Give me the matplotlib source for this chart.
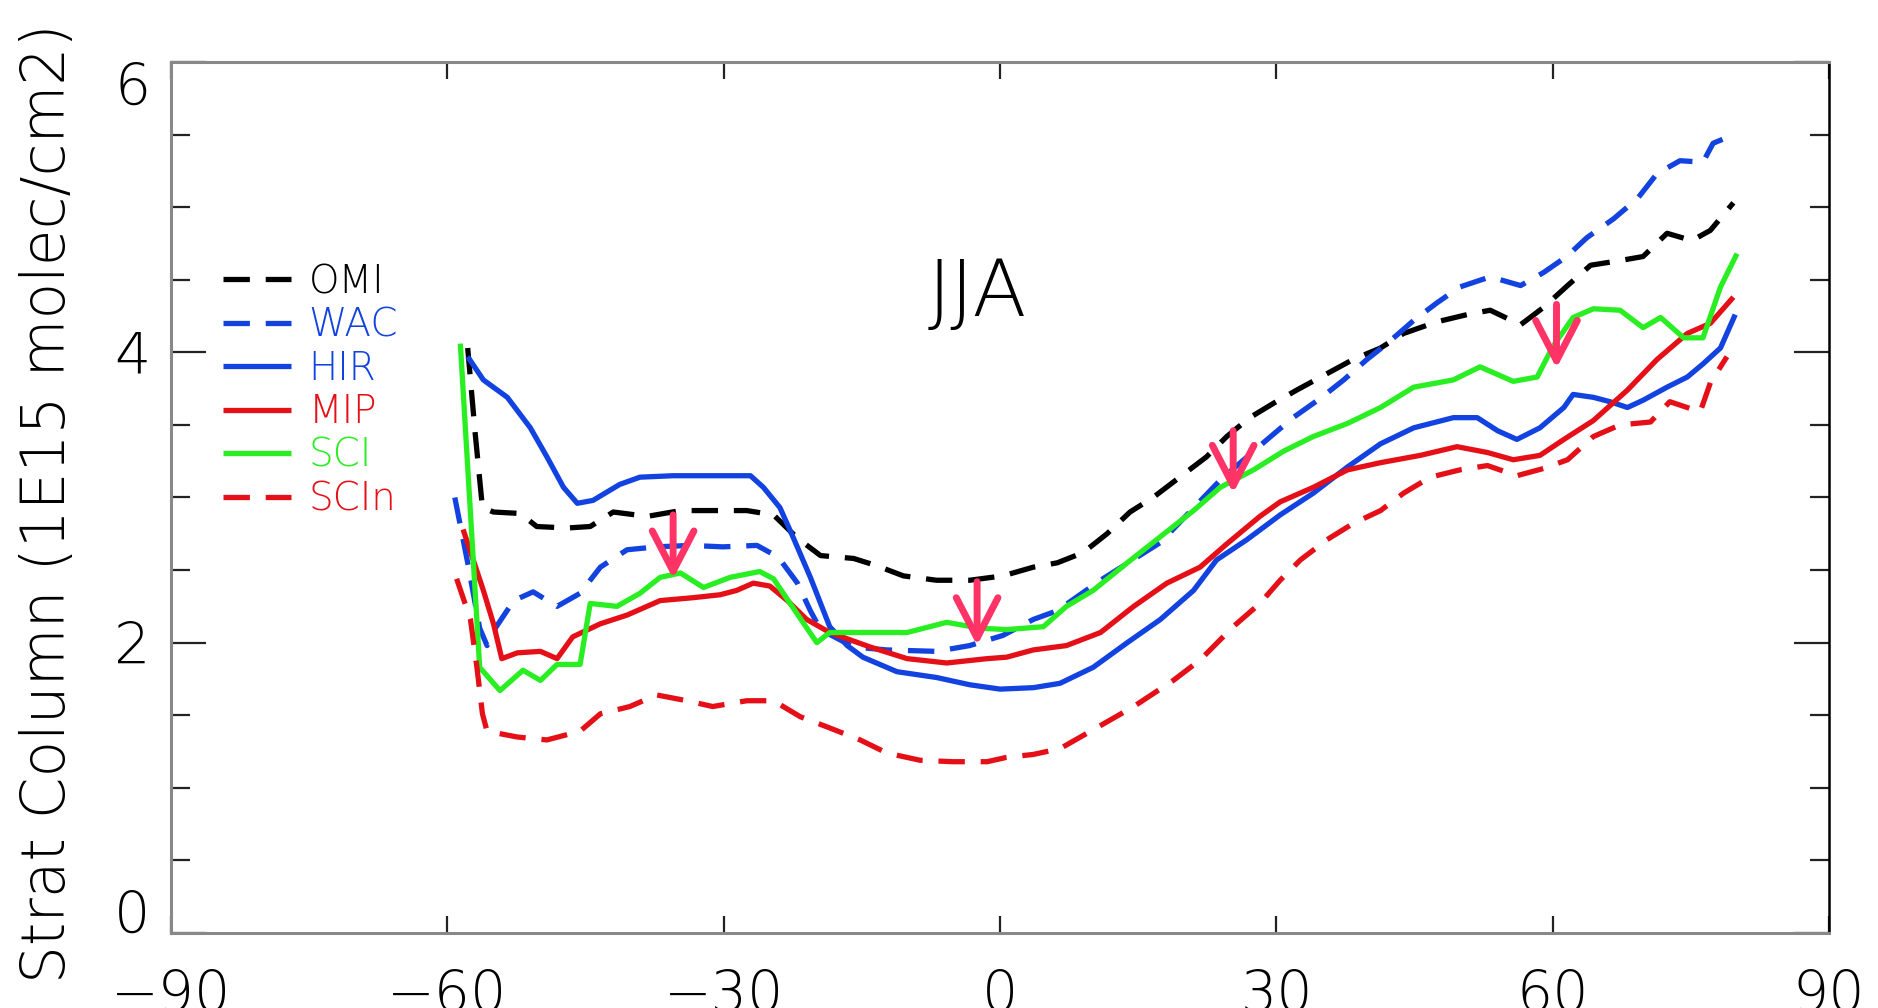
import matplotlib
matplotlib.use("Agg")
import matplotlib.pyplot as plt
from matplotlib.ticker import MultipleLocator

# Columnas estratosfericas de NO2, promedio JJA, por latitud
omi_lat = [-57.8, -57.0, -56.2, -55.0, -52.1, -50.3, -47.0, -44.5, -42.0, -38.3, -34.7, -31.2,
           -27.5, -24.6, -22.0, -19.5, -15.9, -13.4, -10.5, -6.9, -3.3, 0.3, 3.6, 6.2, 9.0,
           11.6, 14.1, 16.6, 19.5, 22.4, 24.6, 27.1, 29.7, 32.2, 35.1, 38.3, 41.3, 43.8, 47.4,
           50.7, 53.2, 56.5, 59.0, 61.6, 64.1, 67.1, 69.8, 72.4, 75.1, 77.1, 79.6]
omi_col = [4.03, 3.45, 2.93, 2.90, 2.89, 2.80, 2.79, 2.80, 2.90, 2.87, 2.91, 2.91,
           2.91, 2.88, 2.72, 2.60, 2.58, 2.53, 2.46, 2.43, 2.43, 2.46, 2.52, 2.55, 2.62,
           2.75, 2.90, 3.00, 3.14, 3.28, 3.42, 3.55, 3.65, 3.74, 3.84, 3.95, 4.03, 4.13, 4.21,
           4.26, 4.29, 4.19, 4.31, 4.46, 4.60, 4.63, 4.66, 4.82, 4.77, 4.84, 5.03]

wac_lat = [-59.2, -57.8, -56.5, -55.7, -54.8, -52.8, -50.7, -48.1, -45.6, -43.4, -40.5, -37.3,
           -33.6, -30.1, -26.4, -24.1, -22.0, -20.6, -19.5, -15.9, -12.3, -6.9, -3.3, 0.3, 3.6,
           6.2, 10.9, 17.4, 23.9, 29.0, 31.8, 34.7, 37.3, 39.8, 42.0, 44.9, 47.4, 49.9, 53.2,
           56.5, 59.0, 61.5, 63.7, 66.6, 69.2, 71.3, 73.8, 76.3, 77.4, 78.9]
wac_col = [3.00, 2.55, 2.10, 1.98, 2.10, 2.29, 2.35, 2.25, 2.34, 2.52, 2.64, 2.66,
           2.67, 2.66, 2.67, 2.59, 2.41, 2.22, 2.09, 1.97, 1.95, 1.94, 1.98, 2.05, 2.16,
           2.22, 2.43, 2.69, 3.12, 3.40, 3.55, 3.68, 3.81, 3.95, 4.06, 4.22, 4.34, 4.45, 4.52,
           4.46, 4.55, 4.66, 4.79, 4.92, 5.06, 5.23, 5.32, 5.31, 5.44, 5.48]

hir_lat = [-57.8, -56.1, -53.5, -51.0, -49.2, -47.4, -45.9, -44.2, -41.3, -39.1, -35.5, -27.1,
           -25.7, -23.9, -22.5, -20.6, -18.5, -16.6, -14.9, -11.2, -6.9, -3.3, 0.0, 3.6, 6.5,
           10.1, 13.8, 17.4, 21.0, 23.5, 26.8, 30.4, 34.0, 37.7, 41.3, 44.9, 49.2, 51.8, 54.0,
           56.1, 58.6, 61.2, 62.2, 64.4, 66.2, 68.1, 69.8, 72.4, 74.6, 76.3, 78.2, 79.8]
hir_col = [3.97, 3.81, 3.69, 3.48, 3.28, 3.07, 2.96, 2.98, 3.09, 3.14, 3.15, 3.15,
           3.07, 2.93, 2.73, 2.45, 2.11, 1.98, 1.90, 1.80, 1.76, 1.71, 1.68, 1.69, 1.72,
           1.83, 2.00, 2.16, 2.36, 2.57, 2.71, 2.88, 3.03, 3.21, 3.37, 3.48, 3.55, 3.55, 3.46,
           3.40, 3.48, 3.62, 3.71, 3.69, 3.66, 3.62, 3.67, 3.76, 3.83, 3.92, 4.03, 4.26]

mip_lat = [-58.3, -57.2, -56.1, -55.0, -54.1, -52.4, -49.9, -48.1, -46.4, -43.4, -40.5, -36.9,
           -33.3, -30.4, -28.6, -26.8, -25.0, -23.1, -21.0, -18.5, -14.1, -10.1, -5.8, -1.4,
           0.7, 3.6, 7.2, 10.9, 14.5, 18.1, 21.7, 24.6, 28.2, 30.4, 34.0, 37.7, 41.3, 45.6,
           49.6, 52.9, 55.7, 58.6, 61.2, 64.4, 68.1, 71.3, 74.6, 77.1, 79.6]
mip_col = [2.78, 2.57, 2.36, 2.13, 1.89, 1.93, 1.94, 1.89, 2.04, 2.13, 2.19, 2.29,
           2.31, 2.33, 2.36, 2.41, 2.39, 2.29, 2.16, 2.07, 1.97, 1.89, 1.86, 1.89,
           1.90, 1.95, 1.98, 2.07, 2.25, 2.41, 2.52, 2.68, 2.87, 2.97, 3.07, 3.19, 3.24, 3.29,
           3.35, 3.31, 3.26, 3.29, 3.40, 3.53, 3.74, 3.95, 4.13, 4.20, 4.38]

sci_lat = [-58.6, -56.5, -54.3, -51.8, -49.9, -48.1, -45.6, -44.5, -41.6, -39.1, -36.9, -34.7,
           -32.2, -29.3, -26.1, -24.6, -22.8, -19.9, -18.5, -14.1, -10.1, -5.8, -2.2, 0.7, 4.7,
           7.2, 10.1, 13.8, 17.4, 21.0, 23.9, 27.5, 30.8, 34.0, 37.7, 41.3, 44.9, 49.2, 52.1,
           55.7, 58.3, 60.0, 62.2, 64.4, 67.3, 69.8, 71.7, 74.2, 76.3, 78.2, 80.0]
sci_col = [4.06, 1.83, 1.67, 1.81, 1.74, 1.85, 1.85, 2.27, 2.25, 2.34, 2.45, 2.48,
           2.38, 2.45, 2.49, 2.44, 2.27, 2.00, 2.07, 2.07, 2.07, 2.14, 2.10, 2.09, 2.11,
           2.25, 2.36, 2.55, 2.73, 2.91, 3.07, 3.19, 3.32, 3.42, 3.51, 3.62, 3.76, 3.81, 3.90,
           3.80, 3.83, 4.04, 4.24, 4.30, 4.29, 4.17, 4.24, 4.10, 4.10, 4.45, 4.68]

scin_lat = [-59.0, -57.5, -56.8, -56.2, -55.7, -52.4, -49.2, -45.6, -43.4, -40.2, -37.3, -34.0,
            -31.2, -27.5, -24.6, -21.7, -18.8, -15.2, -12.3, -8.7, -5.1, -1.4, 0.7, 3.6, 6.5,
            10.1, 14.5, 18.8, 21.7, 25.3, 28.2, 30.4, 32.6, 35.5, 38.3, 41.3, 43.8, 46.7, 49.9,
            52.9, 56.1, 59.0, 61.6, 64.4, 67.3, 70.6, 72.7, 76.0, 77.1, 78.9]
scin_col = [2.44, 2.16, 1.83, 1.51, 1.39, 1.35, 1.33, 1.39, 1.51, 1.56, 1.64, 1.60,
            1.56, 1.60, 1.60, 1.49, 1.42, 1.33, 1.24, 1.19, 1.18, 1.18, 1.21, 1.23, 1.27,
            1.40, 1.56, 1.74, 1.88, 2.11, 2.27, 2.43, 2.57, 2.71, 2.82, 2.91, 3.03, 3.14, 3.19,
            3.22, 3.15, 3.20, 3.26, 3.42, 3.50, 3.52, 3.66, 3.59, 3.79, 3.97]

# Flechas de anotacion (latitud, columna inicial, columna final)
arrow_lat = [-35.5, -2.5, 25.3, 60.4]
arrow_from = [2.88, 2.42, 3.46, 4.33]
arrow_to = [2.44, 1.98, 3.03, 3.89]

BLUE = "#1242e0"
RED = "#e50f17"
GREEN = "#28ee22"
DASH = (5, 3)

series = [
    ("OMI", omi_lat, omi_col, "black", True),
    ("WAC", wac_lat, wac_col, BLUE, True),
    ("HIR", hir_lat, hir_col, BLUE, False),
    ("MIP", mip_lat, mip_col, RED, False),
    ("SCI", sci_lat, sci_col, GREEN, False),
    ("SCIn", scin_lat, scin_col, RED, True),
]

plt.rcParams["font.family"] = "DejaVu Sans"

fig = plt.figure(figsize=(18.78, 10.08), dpi=100)
ax = fig.add_axes([0.0911, 0.0744, 0.8829, 0.8641])

for name, lat, col, color, dashed in series:
    line, = ax.plot(lat, col, color=color, lw=3.8, label=name, solid_capstyle="butt")
    if dashed:
        line.set_dashes(DASH)

# Flechas rosadas sobre las curvas
for x, y0, y1 in zip(arrow_lat, arrow_from, arrow_to):
    ax.annotate("", xy=(x, y1), xytext=(x, y0),
                arrowprops=dict(arrowstyle="->,head_length=0.58,head_width=0.3",
                                mutation_scale=50, color="#ff3366", lw=5,
                                shrinkA=0, shrinkB=0, capstyle="round",
                                joinstyle="round"),
                zorder=5)

ax.text(-2.5, 4.40, "JJA", fontsize=57, fontweight="light", ha="center", va="center")

leg = ax.legend(loc="upper left", bbox_to_anchor=(0.022, 0.787), frameon=False,
                fontsize=28, handlelength=1.75, handletextpad=0.45,
                labelspacing=0.14, labelcolor="linecolor", borderaxespad=0)
for t in leg.get_texts():
    t.set_fontweight("light")

ax.set_xlim(-90, 90)
ax.set_ylim(0, 6)
ax.xaxis.set_major_locator(MultipleLocator(30))
ax.yaxis.set_major_locator(MultipleLocator(2))
ax.yaxis.set_minor_locator(MultipleLocator(0.5))

ax.tick_params(axis="both", which="both", direction="in", top=True, right=True,
               width=1.6, color="#222222")
ax.tick_params(axis="y", which="major", length=25, pad=15, labelsize=41)
ax.tick_params(axis="y", which="minor", length=14)
ax.tick_params(axis="x", which="major", length=12, pad=26, labelsize=41)

for side in ["left", "bottom", "top"]:
    ax.spines[side].set_color("#888888")
    ax.spines[side].set_linewidth(2.2)
ax.spines["right"].set_color("black")
ax.spines["right"].set_linewidth(1.8)

fig.text(0.0256, 0.501, "Strat Column (1E15 molec/cm2)", rotation=90,
         fontsize=43, fontweight="light", ha="center", va="center")

# Las etiquetas extremas del eje y quedan dentro del marco
fig.canvas.draw()
for lab in ax.get_xticklabels() + ax.get_yticklabels():
    lab.set_fontweight("light")
for tick in ax.yaxis.get_major_ticks():
    if abs(tick.get_loc()) < 1e-9:
        tick.label1.set_va("baseline")
    elif abs(tick.get_loc() - 6) < 1e-9:
        tick.label1.set_va("top")

fig.savefig("out.png", dpi=100)
